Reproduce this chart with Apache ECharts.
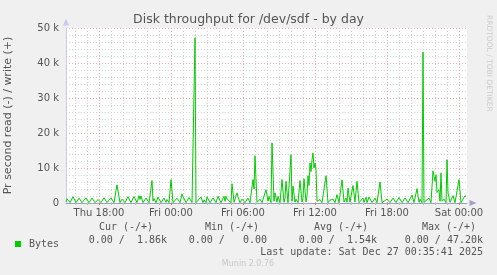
<!DOCTYPE html>
<html><head><meta charset="utf-8">
<script src="https://cdn.jsdelivr.net/npm/echarts@6/dist/echarts.min.js"></script>
<style>html,body{margin:0;padding:0;background:#f0f0f0}#c{width:497px;height:275px}</style>
</head><body><div id="c"></div>
<script>
// ---- data (time = 'day HH:MM' in Dec 2025, value = bytes/s) ----
const times = ['25 15:15','25 15:20','25 15:35','25 15:50','25 16:05','25 16:20','25 16:35','25 16:55','25 17:10','25 17:25','25 17:40','25 17:55','25 18:10','25 18:25','25 18:40','25 19:00','25 19:15','25 19:30','25 19:45','25 19:55','25 20:10','25 20:25','25 20:40','25 20:55','25 21:10','25 21:20','25 21:25','25 21:30','25 21:40','25 21:55','25 22:10','25 22:25','25 22:30','25 22:35','25 22:45','25 22:55','25 23:10','25 23:25','25 23:35','25 23:40','25 23:50',
'26 00:00','26 00:10','26 00:30','26 00:45','26 00:55','26 01:00','26 01:05','26 01:15','26 01:30','26 01:45','26 01:55','26 02:00','26 02:05','26 02:15','26 02:30','26 02:40','26 02:45','26 02:55','26 03:00','26 03:15','26 03:30','26 03:45','26 03:55','26 04:10','26 04:25','26 04:30','26 04:35','26 04:40','26 04:50','26 05:00','26 05:05','26 05:15','26 05:30','26 05:35','26 05:45','26 05:55',
'26 06:10','26 06:25','26 06:35','26 06:50','26 06:55','26 07:00','26 07:10','26 07:25','26 07:35','26 07:55','26 08:05','26 08:10','26 08:20','26 08:25','26 08:35','26 08:40','26 08:50','26 08:55','26 09:05','26 09:15','26 09:25','26 09:30','26 09:35','26 09:45','26 10:00','26 10:05','26 10:10','26 10:20','26 10:25','26 10:35','26 10:45','26 10:55','26 11:00','26 11:05','26 11:15','26 11:20','26 11:25','26 11:30','26 11:35','26 11:40','26 11:45','26 11:50','26 11:55',
'26 12:00','26 12:05','26 12:10','26 12:20','26 12:25','26 12:35','26 12:55','26 13:05','26 13:15','26 13:30','26 13:40','26 13:50','26 14:00','26 14:15','26 14:25','26 14:35','26 14:40','26 14:45','26 14:55','26 15:00','26 15:10','26 15:20','26 15:30','26 15:40','26 16:00','26 16:05','26 16:15','26 16:20','26 16:30','26 16:45','26 17:00','26 17:10','26 17:25','26 17:35',
'26 18:00','26 18:15','26 18:30','26 18:45','26 19:00','26 19:15','26 19:30','26 19:45','26 20:05','26 20:15','26 20:30','26 20:40','26 20:45','26 20:55','26 21:00','26 21:05','26 21:15','26 21:30','26 21:40','26 21:50','26 21:55','26 22:00','26 22:05','26 22:10','26 22:20','26 22:25','26 22:30','26 22:35','26 22:45','26 22:55','26 23:00','26 23:05','26 23:15','26 23:30','26 23:40',
'27 00:00','27 00:10','27 00:20','27 00:30','27 00:35'];
const writeBytes = [300,1200,100,1800,100,1400,100,1500,100,1400,100,1000,100,1500,100,1500,100,5200,100,1100,100,1800,100,1900,100,2100,1000,2000,100,1400,100,6400,500,1300,100,1700,100,1400,200,1000,100,
6700,100,1400,100,2600,1800,2200,100,1600,100,100,47200,100,200,1700,100,900,100,1800,100,1400,100,1900,100,1900,500,1900,1200,1700,100,5500,200,2900,1800,100,1100,
100,1400,100,6700,4000,13500,200,1100,100,3800,500,1900,100,17200,500,2900,200,1900,100,6700,200,1400,6200,100,13800,500,4800,200,1100,100,6400,300,1400,6900,300,1900,7800,5000,11400,9000,12400,14300,10000,
11400,9500,500,100,1000,100,7800,100,800,1100,100,2400,100,6600,300,1400,200,4300,200,1800,5000,300,6200,100,1400,200,1600,100,1700,100,1400,100,6000,100,
1100,100,1400,100,1600,100,1400,100,2300,100,4100,200,1100,100,43100,200,100,1400,100,9200,7600,6200,8100,3000,3800,500,8600,500,1100,100,12400,3000,200,2100,100,
6700,100,200,2100,1860];
const xStart = '25 15:15', xEnd = '27 00:40';
const xTickTimes = ['25 18:00', '26 00:00', '26 06:00', '26 12:00', '26 18:00', '27 00:00'];
const yTicks = [0, 10000, 20000, 30000, 40000, 50000];
const seriesName = 'Bytes';
const statHeads = ['Cur (-/+)', 'Min (-/+)', 'Avg (-/+)', 'Max (-/+)'];
const statRead  = ['0.00', '0.00', '0.00', '0.00'];
const statWrite = ['1.86k', '0.00', '1.54k', '47.20k'];
const titleText = 'Disk throughput for /dev/sdf - by day';
const yName = 'Pr second read (-) / write (+)';
const lastUpdate = 'Last update: Sat Dec 27 00:35:41 2025';
const version = 'Munin 2.0.76';
const sideText = 'RRDTOOL / TOBI OETIKER';

// ---- build ----
function toDate(s){ const d=+s.slice(0,2), h=+s.slice(3,5), m=+s.slice(6,8); return new Date(2025,11,d,h,m).getTime(); }
const pad = n => (n<10?'0':'')+n;
const dayNames = ['Sun','Mon','Tue','Wed','Thu','Fri','Sat'];
const data = times.map((t,i)=>[toDate(t), writeBytes[i]]);
const xMin = toDate(xStart), xMax = toDate(xEnd);
const majorTicks = xTickTimes.map(toDate);
const HOUR = 3600*1000;
const hourTicks = [];
for (let t = Math.ceil(xMin/HOUR)*HOUR; t <= xMax; t += HOUR) hourTicks.push(t);
const SANS = 'DejaVu Sans', MONO = 'DejaVu Sans Mono';
const txt = '#555555';

const statX = [126, 232, 341, 449];
const graphics = [];
statHeads.forEach((h,i)=>{
  graphics.push({type:'text', x: statX[i], y: 222, style:{text:h, font:'10px "'+MONO+'"', fill:txt, textAlign:'center'}});
});
const rowStr = statRead.map((r,i)=> r + ' / ' + statWrite[i].padStart(6,' '));
rowStr.forEach((s,i)=>{
  graphics.push({type:'text', x: [167,267,377,483][i], y: 235, style:{text:s, font:'10px "'+MONO+'"', fill:txt, textAlign:'right'}});
});
graphics.push({type:'text', x:483, y:247, style:{text:lastUpdate, font:'10px "'+MONO+'"', fill:txt, textAlign:'right'}});
graphics.push({type:'text', x:248, y:260, style:{text:version, font:'8px "'+SANS+'"', fill:'#c8c8c8', textAlign:'center'}});
graphics.push({type:'text', x:493, y:15, rotation:-Math.PI/2, style:{text:sideText, font:'7.5px "'+SANS+'"', fill:'#cccccc'}});

const fmt = function(v){ const d=new Date(v); return dayNames[d.getDay()]+' '+pad(d.getHours())+':'+pad(d.getMinutes()); };

const chart = echarts.init(document.getElementById('c'), null, {renderer:'canvas'});
chart.setOption({
  backgroundColor:'#f0f0f0',
  animation:false,
  title:{text:titleText, left:'center', top:8, textStyle:{fontFamily:SANS, fontSize:12.5, fontWeight:'normal', color:txt}},
  grid:{left:66, right:30, top:28, bottom:72, show:true, backgroundColor:'#ffffff', borderWidth:0, containLabel:false, outerBoundsMode:'none'},
  legend:{data:[seriesName], left:10, top:234, icon:'rect', itemWidth:6, itemHeight:6, itemGap:4,
    textStyle:{fontFamily:MONO, fontSize:10, color:txt, padding:[0,0,0,3]}},
  xAxis:[{
    // hourly minor grid (drawn first)
    type:'value', min:xMin, max:xMax, position:'bottom',
    axisLine:{show:false}, axisLabel:{show:false},
    axisTick:{show:true, customValues:hourTicks, length:2, lineStyle:{color:'#bbbbbb'}},
    splitLine:{show:true, lineStyle:{color:'#d4d4d4', type:[1,2], width:1}}
  },{
    type:'value', min:xMin, max:xMax, position:'bottom',
    axisLine:{show:true, onZero:false, lineStyle:{color:'#a0a0c8', width:1}, symbol:['none','triangle'], symbolSize:[6,7], symbolOffset:[0,6]},
    axisTick:{show:true, customValues:majorTicks, length:2, lineStyle:{color:'#e07070'}},
    axisLabel:{fontFamily:SANS, fontSize:10, color:txt, margin:5, customValues:majorTicks, formatter:fmt},
    splitLine:{show:true, lineStyle:{color:'#eeaaaa', type:[1,2], width:1}}
  }],
  yAxis:{type:'value', min:yTicks[0], max:yTicks[yTicks.length-1], interval:yTicks[1]-yTicks[0],
    name:yName, nameLocation:'middle', nameGap:52, nameTextStyle:{fontFamily:SANS, fontSize:11, color:txt},
    axisLine:{show:true, lineStyle:{color:'#c8c8f0', width:1}, symbol:['none','triangle'], symbolSize:[6,7], symbolOffset:[0,6]},
    axisTick:{show:false},
    minorTick:{show:false, splitNumber:5},
    axisLabel:{fontFamily:SANS, fontSize:10, color:txt, margin:7, formatter:v=> v===0?'0':(v/1000)+' k'},
    splitLine:{show:true, lineStyle:{color:'#eeaaaa', type:[1,2], width:1}},
    minorSplitLine:{show:true, lineStyle:{color:'#d4d4d4', type:[1,2], width:1}}
  },
  series:[{name:seriesName, type:'line', xAxisIndex:1, data:data, showSymbol:false, symbol:'none', smooth:false,
    lineStyle:{color:'#00cc00', width:1}, itemStyle:{color:'#00cc00'}}],
  graphic:graphics
});
</script></body></html>
